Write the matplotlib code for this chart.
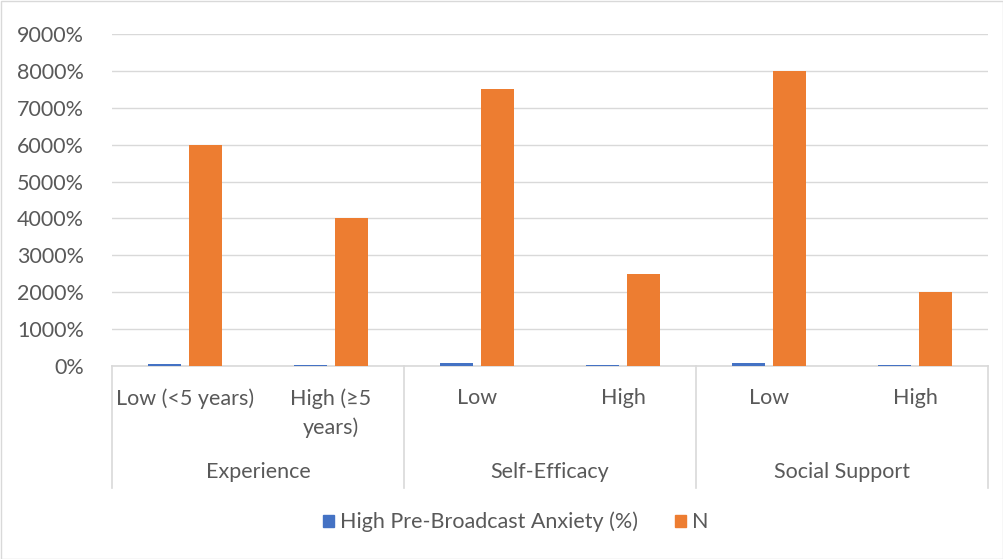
import numpy as np
import matplotlib
matplotlib.use('Agg')
import matplotlib.pyplot as plt
import matplotlib.transforms as mtransforms
from matplotlib.ticker import PercentFormatter
from matplotlib.patches import Patch, Rectangle

# data (1.0 == 100%)
groups = ['Experience', 'Self-Efficacy', 'Social Support']
levels = ['Low (<5 years)', 'High (\u22655\nyears)', 'Low', 'High', 'Low', 'High']
anxiety = [0.58, 0.22, 0.68, 0.18, 0.70, 0.15]
n_vals = [60, 40, 75, 25, 80, 20]
series_names = ['High Pre-Broadcast Anxiety (%)', 'N']

blue = '#4472C4'
orange = '#ED7D31'
txt = '#595959'
grid = '#D9D9D9'
fs = 15.5

plt.rcParams['font.family'] = ['Lato', 'DejaVu Sans']

W, H = 1004, 559
fig = plt.figure(figsize=(W / 100, H / 100), dpi=100)
ax = fig.add_axes([112 / W, 1 - 366 / H, 876 / W, 332 / H])

x = np.arange(len(levels))
bw = 0.226
off = 0.143
ax.bar(x - off, anxiety, bw, color=blue, zorder=3)
ax.bar(x + off, n_vals, bw, color=orange, zorder=3)

ax.set_xlim(-0.5, len(levels) - 0.5)
ax.set_ylim(0, 90)
ax.set_yticks(np.arange(0, 91, 10))
ax.yaxis.set_major_formatter(PercentFormatter(xmax=1, decimals=0))
ax.yaxis.grid(True, color=grid, lw=1, zorder=0)
ax.tick_params(axis='y', length=0, pad=20, labelsize=fs, labelcolor=txt)
ax.set_xticks([])
for s in ['top', 'right', 'left']:
    ax.spines[s].set_visible(False)
ax.spines['bottom'].set_color(grid)
ax.spines['bottom'].set_linewidth(1.2)

# category axis labels
tr = mtransforms.blended_transform_factory(ax.transData, ax.transAxes)
for i, lab in enumerate(levels):
    ax.text(i, -0.066, lab, transform=tr, ha='center', va='top',
            fontsize=fs, color=txt, linespacing=1.55)
for g, name in enumerate(groups):
    ax.text(2 * g + 0.5, -0.319, name, transform=tr, ha='center', va='center',
            fontsize=fs, color=txt)
for b in [-0.5, 1.5, 3.5, 5.5]:
    ax.plot([b, b], [0, -0.367], transform=tr, color=grid, lw=1.2, clip_on=False)

handles = [Patch(color=blue), Patch(color=orange)]
fig.legend(handles, series_names, loc='center', bbox_to_anchor=(516 / W, 1 - 522 / H),
           ncol=2, frameon=False, fontsize=fs, labelcolor=txt,
           handlelength=0.5, handleheight=0.5, handletextpad=0.3, columnspacing=1.7)

fig.patches.append(Rectangle((0.5 / W, 0.5 / H), 1 - 1.5 / W, 1 - 1.5 / H,
                             transform=fig.transFigure, fill=False, ec=grid, lw=1))

fig.savefig('out.png', dpi=100)
